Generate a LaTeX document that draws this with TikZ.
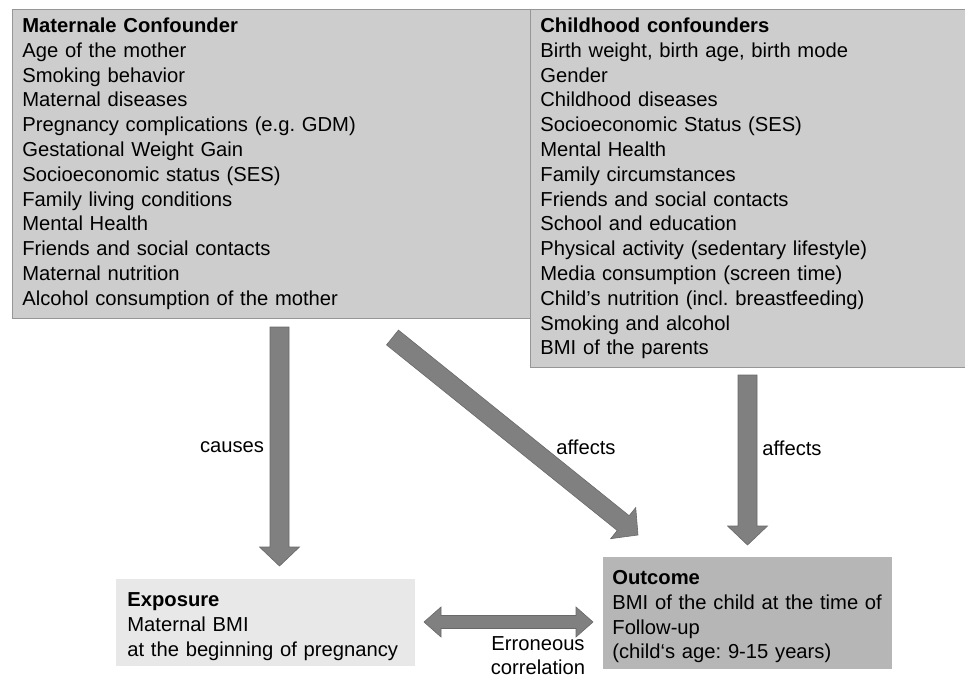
\documentclass[tikz,border=0pt]{standalone}
\usepackage{fontspec}
\setmainfont{Liberation Sans}
\frenchspacing
\usetikzlibrary{positioning,calc}
\definecolor{boxgray}{RGB}{205,205,205}
\definecolor{bordergray}{RGB}{150,150,150}
\definecolor{expogray}{RGB}{232,232,232}
\definecolor{outcgray}{RGB}{182,182,182}
\definecolor{arrowgray}{RGB}{128,128,128}
\definecolor{arrowedge}{RGB}{105,105,105}
\tikzset{panel/.style={draw=bordergray, line width=0.8pt, anchor=north west, align=left, inner xsep=10pt, inner ysep=8.5pt}}
\tikzset{fatarrow/.style={fill=arrowgray, draw=arrowedge, line width=0.6pt, line join=miter}}
\newcommand{\fatarrow}[2]{%
  \coordinate (fh) at ($(#2)!19pt!(#1)$);
  \filldraw[fatarrow] ($(#1)!9.5pt!90:(#2)$) -- ($(fh)!9.5pt!90:(#2)$) -- ($(fh)!20pt!90:(#2)$) -- (#2)
    -- ($(fh)!20pt!-90:(#2)$) -- ($(fh)!9.5pt!-90:(#2)$) -- ($(#1)!9.5pt!-90:(#2)$) -- cycle;}
\newcommand{\fatdouble}[2]{%
  \coordinate (fa) at ($(#1)!17pt!(#2)$);
  \coordinate (fb) at ($(#2)!17pt!(#1)$);
  \filldraw[fatarrow] (#1) -- ($(fa)!15pt!90:(#2)$) -- ($(fa)!6.5pt!90:(#2)$) -- ($(fb)!6.5pt!90:(#2)$) -- ($(fb)!15pt!90:(#2)$) -- (#2)
    -- ($(fb)!15pt!-90:(#2)$) -- ($(fb)!6.5pt!-90:(#2)$) -- ($(fa)!6.5pt!-90:(#2)$) -- ($(fa)!15pt!-90:(#2)$) -- cycle;}

\begin{document}
\begin{tikzpicture}[x=1pt, y=-1pt, every node/.style={font=\fontsize{20.2}{24.8}\selectfont}]
    \useasboundingbox (0,0) rectangle (965,682);
    \node[panel, fill=boxgray, text width=499pt] (mat) at (12,9) {\textbf{Maternale Confounder}\\Age of the mother\\Smoking behavior\\Maternal diseases\\Pregnancy complications (e.g. GDM)\\Gestational Weight Gain\\Socioeconomic status (SES)\\Family living conditions\\Mental Health\\Friends and social contacts\\Maternal nutrition\\Alcohol consumption of the mother};
    \node[panel, fill=boxgray, text width=415pt] (child) at (530,9) {\textbf{Childhood confounders}\\Birth weight, birth age, birth mode\\Gender\\Childhood diseases\\Socioeconomic Status (SES)\\Mental Health\\Family circumstances\\Friends and social contacts\\School and education\\Physical activity (sedentary lifestyle)\\Media consumption (screen time)\\Child’s nutrition (incl. breastfeeding)\\Smoking and alcohol\\BMI of the parents};
    \node[panel, fill=expogray, draw=none, text width=277pt, inner xsep=11pt, inner ysep=6pt, text height=21pt] (expo) at (116,579) {\textbf{Exposure}\\Maternal BMI\\at the beginning of pregnancy};
    \node[panel, fill=outcgray, draw=none, text width=271pt, inner xsep=9pt, inner ysep=6pt, text height=21pt] (outc) at (603,557) {\textbf{Outcome}\\BMI of the child at the time of\\Follow-up\\(child‘s age: 9-15 years)};

    \coordinate (c1) at (279.5,327);
    \coordinate (c2) at (279.5,566);
    \coordinate (d1) at (392.5,337.5);
    \coordinate (d2) at (638,535);
    \coordinate (a1) at (747.5,375);
    \coordinate (a2) at (747.5,545);
    \coordinate (e1) at (424,622);
    \coordinate (e2) at (593,622);
    \fatarrow{c1}{c2}
    \fatarrow{d1}{d2}
    \fatarrow{a1}{a2}
    \fatdouble{e1}{e2}

    \node (causes) at (232,447) {causes};
    \node (aff1) at (586,447) {affects};
    \node (aff2) at (792,448) {affects};
    \node[align=center, anchor=north, inner sep=0pt] (err) at (538,636) {Erroneous\\correlation};
\end{tikzpicture}
\end{document}
